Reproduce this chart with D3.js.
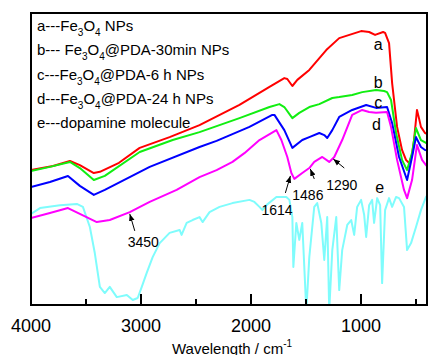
<!DOCTYPE html>
<html lang="en">
<head>
<meta charset="UTF-8">
<title>FTIR</title>
<script src="https://d3js.org/d3.v7.min.js"></script>
<style>
  body { margin: 0; background: #fff; }
  text { font-family: "Liberation Sans", Arial, sans-serif; fill: #000; }
</style>
</head>
<body>
<script>
// wavenumber (cm-1), transmittance (a.u.)
const curveA = [[4000,46.2],[3800,47.6],[3646,49.3],[3556,47.9],[3429,45.2],[3374,45.6],[3200,48.7],[3012,53.8],[2740,57.5],
  [2468,61.6],[2105,68.5],[1832,74.7],[1697,77.7],[1670,77.4],[1624,75.0],[1579,77.1],[1470,80.5],[1316,87.3],[1198,91.4],
  [999,93.8],[926,93.5],[872,92.5],[799,93.5],[781,93.2],[745,89.7],[717,76.0],[672,61.0],[627,53.1],[591,49.7],[563,48.6],
  [536,51.4],[518,56.5],[491,66.8],[473,64.0],[455,61.0],[418,58.9],[400,58.6]];
const curveB = [[4000,45.9],[3828,47.3],[3646,49.0],[3556,46.9],[3429,42.8],[3329,44.2],[3012,52.4],[2712,56.5],[2468,59.2],
  [2105,64.0],[1832,67.8],[1742,68.8],[1697,67.8],[1624,64.0],[1561,65.8],[1470,67.8],[1379,68.8],[1261,70.9],[1198,71.2],
  [1080,71.9],[989,72.9],[863,73.6],[790,73.3],[763,72.9],[727,70.2],[681,58.9],[627,49.7],[581,46.2],[536,52.1],[500,60.6],
  [455,56.5],[409,55.5],[400,55.4]];
const curveC = [[4000,40.4],[3828,42.1],[3664,44.2],[3556,40.8],[3429,37.7],[3329,39.4],[2921,47.3],[2468,54.1],[2313,56.2],
  [2014,61.0],[1806,65.1],[1787,65.1],[1697,59.9],[1624,53.8],[1534,56.5],[1470,57.5],[1379,58.9],[1334,58.2],[1307,57.2],
  [1261,59.9],[1198,64.4],[1080,66.8],[953,68.5],[863,67.5],[763,67.8],[717,62.3],[654,50.7],[581,42.8],[536,50.7],
  [500,57.5],[455,54.1],[418,53.1],[400,53.0]];
const curveD = [[4000,29.8],[3828,31.5],[3664,33.2],[3556,31.2],[3402,28.4],[3284,29.1],[3102,31.8],[2921,35.3],[2676,39.4],
  [2468,43.8],[2313,46.2],[2168,49.0],[2060,52.0],[1923,56.5],[1769,59.9],[1724,56.5],[1670,50.7],[1633,45.2],[1606,43.2],
  [1534,45.2],[1470,46.9],[1425,49.0],[1352,50.7],[1289,49.0],[1243,50.7],[1171,56.5],[1080,65.1],[989,66.8],[926,66.1],
  [863,65.8],[763,66.1],[727,61.0],[672,49.7],[609,39.4],[581,36.6],[536,42.8],[491,54.8],[445,49.7],[409,47.9],[400,47.6]];
const curveE = [[4000,31.2],[3918,33.2],[3737,34.2],[3583,34.6],[3528,33.6],[3465,26.7],[3420,17.8],[3374,6.2],[3329,4.1],
  [3284,6.2],[3220,2.7],[3129,3.4],[3075,1.7],[3030,2.4],[2993,6.2],[2948,11.0],[2894,16.4],[2830,21.2],[2740,24.7],
  [2649,25.7],[2631,24.0],[2585,28.1],[2531,29.1],[2468,30.1],[2440,28.4],[2377,31.8],[2286,33.6],[2168,34.9],[2014,36.0],
  [1969,35.3],[1923,33.6],[1896,32.5],[1860,34.2],[1769,37.0],[1679,37.0],[1651,36.0],[1624,30.1],[1615,13.0],[1588,28.1],
  [1561,22.3],[1534,28.1],[1497,-2],[1470,16.4],[1425,33.6],[1398,34.9],[1361,28.1],[1334,15.4],[1307,30.1],[1289,-2],
  [1261,18.8],[1225,30.1],[1198,5.1],[1171,18.8],[1125,27.4],[1089,29.1],[1062,24.0],[1035,33.6],[999,36.0],[971,30.8],
  [953,23.3],[926,34.2],[899,36.0],[881,28.1],[853,36.6],[826,34.2],[808,7.5],[781,32.5],[745,36.6],[717,33.6],[681,37.0],
  [654,36.6],[609,33.6],[581,18.8],[545,21.2],[500,26.7],[455,32.5],[409,37.0],[400,37.5]];

const seriesColors = ["#ff0000", "#11ee11", "#0000ff", "#ff00ff", "#7ffcfc"];
const seriesTags = ["a", "b", "c", "d", "e"];
const tagPos = [[844,87.3],[844,74.3],[844,67.5],[860,59.9],[830,38.4]];

const legendRows = [
  ["a---Fe", "3", "O", "4", " NPs"],
  ["b--- Fe", "3", "O", "4", "@PDA-30min NPs"],
  ["c---Fe", "3", "O", "4", "@PDA-6 h NPs"],
  ["d---Fe", "3", "O", "4", "@PDA-24 h NPs"],
  ["e---dopamine molecule"]
];

// arrow tip on curve d, label text
const peakLabels = ["3450", "1614", "1486", "1290"];
const peakTips = [[3102,31.2],[1642,44.2],[1461,46.6],[1252,50.0]];

const xTicks = [4000, 3500, 3000, 2500, 2000, 1500, 1000, 500];
const xTickLabels = [4000, 3000, 2000, 1000];

const width = 428, height = 355;
const mLeft = 31, mRight = 427, mTop = 13, mBottom = 305;

const svg = d3.select("body").append("svg")
  .attr("width", width)
  .attr("height", height);

const x = d3.scaleLinear().domain([4000, 400]).range([mLeft, mRight]);
const y = d3.scaleLinear().domain([0, 100]).range([mBottom, mTop]);

const defs = svg.append("defs");
defs.append("clipPath").attr("id", "clip")
  .append("rect").attr("x", mLeft).attr("y", mTop).attr("width", mRight - mLeft).attr("height", mBottom - mTop);

const line = d3.line().x(d => x(d[0])).y(d => y(d[1]));

const allCurves = [curveA, curveB, curveC, curveD, curveE];
// draw e first so the others sit above it
const order = [4, 0, 1, 2, 3];
svg.append("g").attr("clip-path", "url(#clip)")
  .selectAll("path")
  .data(order)
  .join("path")
  .attr("d", i => line(allCurves[i]))
  .attr("fill", "none")
  .attr("stroke", i => seriesColors[i])
  .attr("stroke-width", 2)
  .attr("stroke-linejoin", "round");

// curve letters
svg.append("g").selectAll("text")
  .data(seriesTags)
  .join("text")
  .attr("x", (d, i) => x(tagPos[i][0]))
  .attr("y", (d, i) => y(tagPos[i][1]))
  .attr("text-anchor", "middle")
  .attr("font-size", 16)
  .text(d => d);

// legend
const leg = svg.append("g");
legendRows.forEach((row, i) => {
  const t = leg.append("text")
    .attr("x", 37)
    .attr("y", 31 + i * 24.3)
    .attr("font-size", 15);
  row.forEach((part, j) => {
    const sub = j % 2 === 1;
    t.append("tspan")
      .attr("font-size", sub ? 10 : 15)
      .attr("dy", sub ? 5 : (j > 0 ? -5 : 0))
      .text(part);
  });
});

// arrows
defs.append("marker").attr("id", "arr")
  .attr("viewBox", "0 0 10 10").attr("refX", 10).attr("refY", 5)
  .attr("markerWidth", 7).attr("markerHeight", 7)
  .attr("markerUnits", "userSpaceOnUse")
  .attr("orient", "auto")
  .append("path").attr("d", "M0,1 L10,5 L0,9 Z").attr("fill", "#000");

const tailOff = [[5, 17], [-5, 17], [4, 10], [11, 9]];
const textOff = [[-2, 33], [-29, 39], [-18, 31], [-7, 31]];
const ann = svg.append("g");
peakLabels.forEach((lab, i) => {
  const tx = x(peakTips[i][0]), ty = y(peakTips[i][1]);
  ann.append("line")
    .attr("x1", tx + tailOff[i][0]).attr("y1", ty + tailOff[i][1])
    .attr("x2", tx).attr("y2", ty)
    .attr("stroke", "#000").attr("stroke-width", 1)
    .attr("marker-end", "url(#arr)");
  ann.append("text")
    .attr("x", tx + textOff[i][0]).attr("y", ty + textOff[i][1])
    .attr("font-size", 14)
    .text(lab);
});

// frame
svg.append("rect")
  .attr("x", mLeft).attr("y", mTop)
  .attr("width", mRight - mLeft).attr("height", mBottom - mTop)
  .attr("fill", "none").attr("stroke", "#000").attr("stroke-width", 2);

// ticks, pointing inward
svg.append("g").selectAll("line")
  .data(xTicks)
  .join("line")
  .attr("x1", d => x(d)).attr("x2", d => x(d))
  .attr("y1", mBottom).attr("y2", d => d % 1000 === 0 ? mBottom - 11 : mBottom - 6)
  .attr("stroke", "#000").attr("stroke-width", 2);

svg.append("g").selectAll("text")
  .data(xTickLabels)
  .join("text")
  .attr("x", d => x(d))
  .attr("y", 332)
  .attr("text-anchor", "middle")
  .attr("font-size", 18)
  .text(d => d);

const title = svg.append("text")
  .attr("x", 172).attr("y", 354)
  .attr("font-size", 15);
title.append("tspan").text("Wavelength / cm");
title.append("tspan").attr("font-size", 10).attr("dy", -7).text("-1");
</script>
</body>
</html>
